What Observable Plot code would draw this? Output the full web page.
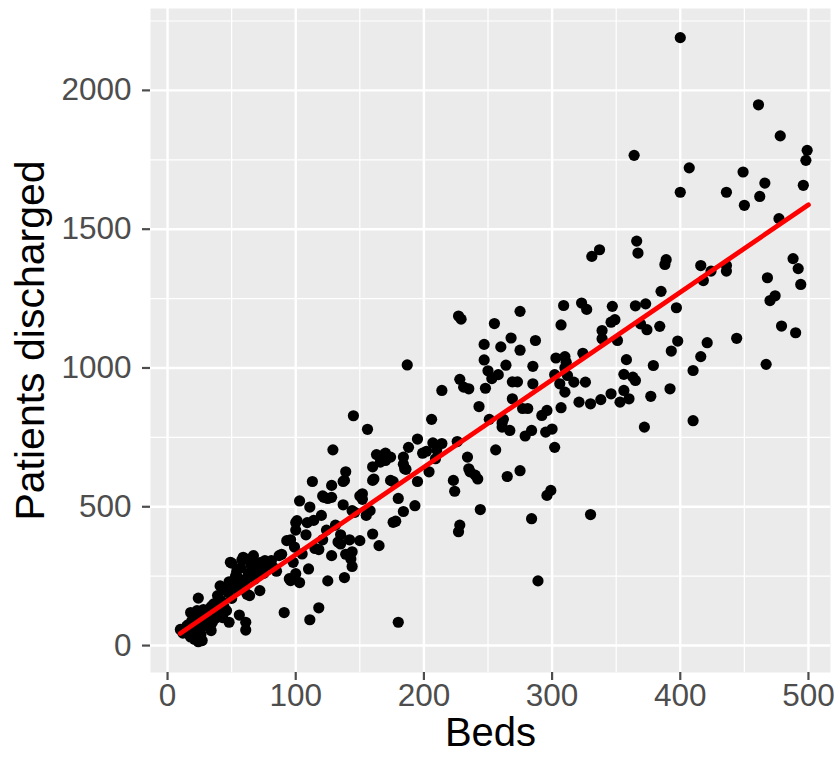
<!DOCTYPE html>
<html>
<head>
<meta charset="utf-8">
<script src="https://cdn.jsdelivr.net/npm/d3@7"></script>
<script src="https://cdn.jsdelivr.net/npm/@observablehq/plot@0.6"></script>
<style>
  html, body { margin: 0; padding: 0; background: #ffffff; }
  #chart { width: 834px; height: 761px; }
</style>
</head>
<body>
<div id="chart"></div>
<script>
// Beds (x) and patients discharged (y)
const beds = [
  10,12,13,15,16,17,18,18,19,20,21,22,22,23,24,24,25,25,26,27,27,28,29,30,31,32,33,34,34,35,
  35,36,37,38,39,40,41,42,43,44,45,46,47,48,48,49,50,50,51,52,53,54,55,56,56,57,58,59,60,61,
  61,61,62,62,63,64,65,67,67,68,70,72,72,73,75,76,79,81,83,85,87,89,91,93,95,96,96,98,99,100,
  100,100,101,103,103,105,108,109,110,111,111,113,114,115,118,118,120,121,121,122,124,125,125,128,128,128,129,131,133,135,
  135,137,137,138,138,139,139,142,143,144,144,144,145,146,150,150,152,152,155,156,158,160,160,160,161,163,165,166,169,170,
  170,174,174,176,176,178,180,180,184,184,184,185,186,187,188,193,195,195,199,202,204,206,207,209,210,214,214,223,224,226,
  227,227,228,228,229,231,235,234,235,236,240,242,243,244,247,247,248,250,251,253,255,256,258,260,261,261,262,264,265,267,
  268,269,269,273,275,275,275,277,279,281,284,284,285,285,287,289,292,295,296,300,296,299,302,302,303,306,307,307,309,310,
  310,310,311,312,317,321,323,324,326,327,330,330,331,337,338,339,339,346,347,349,346,351,353,356,358,356,360,363,365,364,
  365,366,367,369,372,373,374,377,379,384,385,388,389,392,393,397,398,400,400,407,410,410,416,416,418,421,424,436,436,436,
  444,449,450,462,461,466,468,467,470,474,477,478,479,488,490,492,494,496,498,499
];
const discharged = [
  58,45,60,70,75,40,31,119,90,55,23,84,100,126,171,14,60,110,40,18,90,130,70,100,119,85,66,54,140,84,
  110,150,128,100,180,130,215,160,101,140,200,126,192,84,230,300,297,170,210,224,250,268,200,110,240,280,308,318,220,238,
  84,56,185,311,260,180,290,324,294,240,270,198,276,300,260,306,290,306,280,268,324,329,119,378,241,234,381,300,355,416,
  443,259,450,227,521,330,399,443,276,93,499,591,451,350,136,346,469,381,539,534,416,530,233,324,577,534,705,434,373,399,
  366,507,591,595,245,329,626,381,312,338,285,486,828,480,539,378,527,547,469,779,486,402,644,595,600,688,360,661,688,693,
  667,679,595,591,444,448,530,84,483,679,653,637,635,1011,714,504,591,744,693,700,626,815,730,673,705,728,919,595,556,735,
  410,1187,434,959,1176,931,925,679,637,626,614,600,861,490,1085,1029,927,990,815,962,1160,705,976,1076,802,787,815,1010,609,775,
  1108,950,889,950,1204,1064,630,854,755,854,457,775,1006,943,1099,233,829,769,847,780,541,559,714,976,1036,943,1155,857,1225,1001,
  1041,913,1021,973,949,877,1234,1053,949,1211,871,472,1402,1426,886,1135,1105,907,1222,1174,1165,1099,877,919,1030,977,889,967,955,1766,
  1224,1457,1414,1159,787,1231,1138,898,1009,1150,1276,1373,1390,925,1061,1217,1097,2190,1633,1721,991,810,1369,1041,1315,1091,1349,1633,1369,1349,
  1107,1706,1586,1618,1948,1666,1325,1013,1243,1260,1538,1836,1151,1394,1127,1358,1301,1658,1748,1784
];
// Fitted (lm) line: value at the two ends of the data range
const fitBeds = [10, 500];
const fitDischarged = [44, 1588];

const xTicks = [0, 100, 200, 300, 400, 500];
const xMinor = [50, 150, 250, 350, 450];
const yTicks = [0, 500, 1000, 1500, 2000];
const yMinor = [250, 750, 1250, 1750, 2250];
const xTitle = "Beds";
const yTitle = "Patients discharged";

const n = Math.min(beds.length, discharged.length);
const data = d3.range(n).map(i => ({beds: beds[i], discharged: discharged[i]}));
const fit = fitBeds.map((b, i) => ({beds: b, discharged: fitDischarged[i]}));

const chart = Plot.plot({
  width: 834,
  height: 761,
  marginLeft: 150,
  marginRight: 4,
  marginTop: 8,
  marginBottom: 89,
  style: {fontFamily: "'Liberation Sans', Arial, Helvetica, sans-serif", background: "#ffffff"},
  x: {domain: [-13.3, 517.2]},
  y: {domain: [-97, 2295]},
  marks: [
    Plot.frame({fill: "#EBEBEB", stroke: null}),
    Plot.gridX(xMinor, {stroke: "#ffffff", strokeOpacity: 1, strokeWidth: 1.2}),
    Plot.gridY(yMinor, {stroke: "#ffffff", strokeOpacity: 1, strokeWidth: 1.2}),
    Plot.gridX(xTicks, {stroke: "#ffffff", strokeOpacity: 1, strokeWidth: 2.4}),
    Plot.gridY(yTicks, {stroke: "#ffffff", strokeOpacity: 1, strokeWidth: 2.4}),
    Plot.axisX(xTicks, {tickSize: 8, tickPadding: 3, fontSize: 31.5, color: "#4D4D4D", strokeWidth: 2.2, label: null, tickFormat: d => String(d)}),
    Plot.axisY(yTicks, {tickSize: 8, tickPadding: 11, fontSize: 31.5, color: "#4D4D4D", strokeWidth: 2.2, label: null, tickFormat: d => String(d)}),
    Plot.dot(data, {x: "beds", y: "discharged", r: 5.6, fill: "#000000", stroke: null}),
    Plot.line(fit, {x: "beds", y: "discharged", stroke: "#FF0000", strokeWidth: 4.8}),
    Plot.text([xTitle], {frameAnchor: "bottom", dy: 73, fontSize: 40, fill: "#000000", textAnchor: "middle", text: d => d}),
    Plot.text([yTitle], {frameAnchor: "left", dx: -120, rotate: -90, fontSize: 41, fill: "#000000", textAnchor: "middle", text: d => d})
  ]
});
document.getElementById("chart").appendChild(chart);
</script>
</body>
</html>
